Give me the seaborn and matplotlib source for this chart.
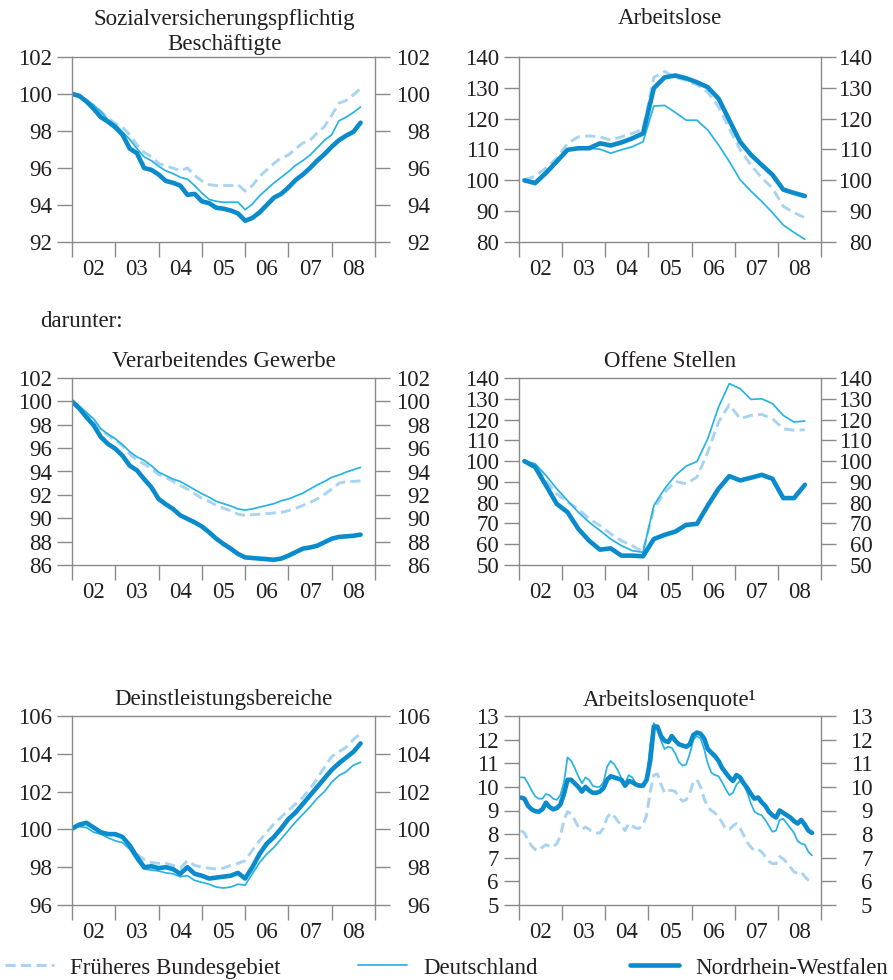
import numpy as np
import pandas as pd
import seaborn as sns
import matplotlib.pyplot as plt
from matplotlib.ticker import FixedLocator

# series names / legend
SERIES = ['Früheres Bundesgebiet', 'Deutschland', 'Nordrhein-Westfalen']
COLORS = {'Früheres Bundesgebiet': '#a9d4f1',
          'Deutschland': '#27b3e3',
          'Nordrhein-Westfalen': '#0a8bcb'}
WIDTHS = {'Früheres Bundesgebiet': 2.1, 'Deutschland': 1.25, 'Nordrhein-Westfalen': 3.3}
DASHES = {'Früheres Bundesgebiet': (3.5, 1.8), 'Deutschland': '', 'Nordrhein-Westfalen': ''}

YEAR_LABELS = ['02', '03', '04', '05', '06', '07', '08']

# time axes (months / quarters since Jan 2002)
months_bi = list(range(0, 81, 2))
quarters = list(range(0, 27))
months = list(range(0, 82))

# Sozialversicherungspflichtig Beschaeftigte
besch_fbg = [100.05, 99.95, 99.65, 99.4, 99.05, 98.7, 98.4, 98.2, 97.8, 97.25, 96.85, 96.6, 96.25, 96.1,
             96.0, 95.85, 96.0, 95.6, 95.3, 95.1, 95.05, 95.05, 95.05, 95.1, 94.75, 95.05, 95.55, 95.9,
             96.25, 96.55, 96.7, 97.05, 97.35, 97.5, 97.9, 98.25, 98.85, 99.5, 99.65, 99.95, 100.3]
besch_de = [100.0, 99.9, 99.65, 99.4, 99.05, 98.6, 98.35, 97.95, 97.55, 97.05, 96.6, 96.4, 96.1, 95.85,
            95.7, 95.5, 95.4, 95.05, 94.65, 94.3, 94.2, 94.15, 94.15, 94.15, 93.75, 94.05, 94.5, 94.85,
            95.2, 95.5, 95.8, 96.15, 96.4, 96.7, 97.1, 97.5, 97.8, 98.55, 98.75, 99.0, 99.3]
besch_nrw = [100.0, 99.9, 99.6, 99.2, 98.75, 98.5, 98.2, 97.8, 97.05, 96.8, 96.0, 95.9, 95.65, 95.3,
             95.2, 95.05, 94.55, 94.6, 94.2, 94.1, 93.85, 93.8, 93.7, 93.55, 93.15, 93.3, 93.6, 94.0,
             94.4, 94.6, 94.95, 95.35, 95.65, 96.0, 96.4, 96.75, 97.15, 97.5, 97.75, 97.95, 98.45]

# Arbeitslose
alo_fbg = [100.2, 101.3, 104.0, 107.2, 112.0, 114.1, 114.4, 114.1, 113.1, 114.1, 115.2, 116.6, 133.4, 135.3,
           133.4, 132.4, 131.0, 128.6, 123.8, 116.8, 109.9, 105.0, 100.8, 97.5, 91.6, 89.5, 87.9]
alo_de = [100.0, 99.7, 102.9, 106.3, 109.6, 110.6, 110.4, 110.1, 108.8, 109.9, 110.9, 112.5, 124.1, 124.3,
          122.0, 119.5, 119.5, 116.3, 111.5, 106.1, 100.2, 96.5, 93.2, 89.5, 85.5, 83.1, 80.9]
alo_nrw = [100.0, 99.1, 102.4, 106.1, 109.9, 110.4, 110.4, 112.0, 111.3, 112.3, 113.6, 115.2, 129.9, 133.4,
           134.0, 133.1, 131.8, 130.2, 126.5, 119.5, 112.5, 108.3, 105.0, 101.8, 97.0, 95.9, 94.9]

# Verarbeitendes Gewerbe
verarb_fbg = [100.1, 99.5, 98.95, 98.4, 97.5, 97.1, 96.65, 96.2, 95.5, 94.95, 94.65, 94.25, 93.75, 93.5,
              93.15, 92.8, 92.5, 92.1, 91.7, 91.45, 91.1, 90.85, 90.65, 90.35, 90.25, 90.3, 90.35, 90.4,
              90.45, 90.5, 90.65, 90.85, 91.1, 91.35, 91.65, 92.05, 92.5, 93.0, 93.15, 93.15, 93.2]
verarb_de = [100.1, 99.6, 99.05, 98.5, 97.65, 97.2, 96.8, 96.3, 95.7, 95.25, 94.95, 94.5, 93.95, 93.65,
             93.35, 93.15, 92.8, 92.45, 92.1, 91.8, 91.45, 91.25, 91.05, 90.8, 90.7, 90.8, 90.95, 91.1,
             91.25, 91.5, 91.65, 91.9, 92.15, 92.5, 92.85, 93.15, 93.5, 93.7, 93.95, 94.15, 94.35]
verarb_nrw = [100.0, 99.4, 98.65, 97.95, 96.95, 96.35, 95.95, 95.35, 94.5, 94.1, 93.35, 92.65, 91.65, 91.2,
              90.8, 90.25, 89.95, 89.65, 89.3, 88.8, 88.25, 87.8, 87.4, 86.95, 86.65, 86.6, 86.55, 86.5,
              86.45, 86.55, 86.8, 87.1, 87.4, 87.5, 87.65, 87.95, 88.25, 88.4, 88.45, 88.5, 88.6]

# Offene Stellen
offen_fbg = [100.3, 98.2, 90.7, 84.2, 80.2, 77.0, 72.2, 69.0, 65.0, 61.7, 59.3, 56.4, 77.0, 85.0,
             90.2, 89.1, 92.3, 104.3, 118.8, 127.2, 120.4, 122.0, 122.5, 120.4, 115.6, 114.8, 115.1]
offen_de = [100.0, 98.7, 93.1, 86.7, 81.0, 75.4, 70.6, 66.6, 62.5, 59.3, 56.9, 56.1, 78.6, 86.7,
            93.1, 97.6, 99.8, 110.8, 126.0, 137.3, 134.9, 129.7, 130.0, 127.7, 122.0, 118.8, 119.3]
offen_nrw = [100.0, 97.1, 88.3, 79.4, 75.4, 67.4, 61.7, 57.4, 58.0, 54.5, 54.5, 54.2, 62.5, 64.5,
             66.1, 69.3, 69.8, 78.6, 86.7, 92.8, 90.7, 92.0, 93.4, 91.5, 82.2, 82.2, 88.6]

# Dienstleistungsbereiche
dienst_fbg = [99.95, 100.2, 100.3, 100.05, 99.85, 99.75, 99.7, 99.6, 99.15, 98.7, 98.4, 98.25, 98.2, 98.2,
              98.1, 97.95, 98.35, 98.1, 98.0, 97.95, 97.9, 97.95, 98.1, 98.2, 98.35, 98.9, 99.4, 99.85,
              100.3, 100.65, 101.0, 101.35, 101.7, 102.15, 102.7, 103.3, 103.85, 104.1, 104.35, 104.75, 105.1]
dienst_de = [100.05, 100.15, 100.1, 99.85, 99.75, 99.55, 99.4, 99.3, 98.95, 98.35, 97.9, 97.85, 97.8, 97.7,
             97.65, 97.5, 97.55, 97.3, 97.2, 97.1, 96.95, 96.9, 96.95, 97.1, 97.05, 97.65, 98.25, 98.7,
             99.05, 99.5, 99.95, 100.4, 100.8, 101.2, 101.65, 102.0, 102.5, 102.85, 103.05, 103.4, 103.55]
dienst_nrw = [100.05, 100.25, 100.35, 100.1, 99.85, 99.75, 99.75, 99.6, 99.15, 98.55, 98.0, 98.05, 97.95, 98.0,
              97.9, 97.65, 98.0, 97.65, 97.55, 97.4, 97.45, 97.5, 97.55, 97.7, 97.4, 98.0, 98.7, 99.25,
              99.6, 100.05, 100.55, 100.9, 101.35, 101.8, 102.25, 102.7, 103.15, 103.5, 103.8, 104.1, 104.55]

# Arbeitslosenquote (monthly)
quote_fbg = [8.15, 8.05, 7.75, 7.5, 7.35, 7.3, 7.45, 7.55, 7.5, 7.45, 7.6, 7.9,
             8.6, 8.95, 8.85, 8.6, 8.3, 8.2, 8.3, 8.2, 8.1, 8.05, 8.05, 8.25,
             8.7, 8.9, 8.75, 8.55, 8.35, 8.15, 8.45, 8.35, 8.25, 8.25, 8.4, 8.8,
             9.8, 10.5, 10.55, 10.1, 9.75, 9.85, 9.85, 9.8, 9.55, 9.4, 9.45, 9.75,
             10.2, 10.3, 10.0, 9.5, 9.15, 9.0, 8.9, 8.7, 8.5, 8.2, 8.2, 8.35,
             8.45, 8.25, 7.95, 7.65, 7.45, 7.3, 7.35, 7.25, 7.05, 6.85, 6.75, 6.75,
             7.05, 6.95, 6.8, 6.6, 6.4, 6.35, 6.4, 6.2, 6.05, 5.95]
quote_de = [10.4, 10.4, 10.15, 9.85, 9.6, 9.5, 9.5, 9.7, 9.65, 9.5, 9.45, 9.65,
            10.2, 11.25, 11.1, 10.8, 10.45, 10.15, 10.4, 10.3, 10.05, 10.0, 10.0, 10.2,
            10.85, 11.1, 10.95, 10.7, 10.35, 10.15, 10.5, 10.4, 10.15, 10.1, 10.1, 10.35,
            11.8, 12.7, 12.45, 11.95, 11.6, 11.7, 11.65, 11.4, 11.05, 10.9, 10.95, 11.4,
            12.0, 12.15, 12.05, 11.6, 11.0, 10.6, 10.5, 10.45, 10.2, 9.9, 9.65, 9.75,
            10.1, 10.25, 10.1, 9.75, 9.3, 8.95, 8.85, 8.8, 8.6, 8.35, 8.1, 8.15,
            8.6, 8.65, 8.45, 8.25, 8.05, 7.7, 7.6, 7.55, 7.25, 7.1]
quote_nrw = [9.55, 9.5, 9.2, 9.05, 8.97, 8.95, 9.05, 9.33, 9.15, 9.05, 9.1, 9.25,
             9.7, 10.3, 10.3, 10.15, 10.0, 9.8, 10.0, 9.85, 9.75, 9.75, 9.8, 9.95,
             10.3, 10.45, 10.4, 10.35, 10.3, 10.05, 10.25, 10.2, 10.1, 10.05, 10.05, 10.3,
             11.1, 12.55, 12.55, 12.15, 11.95, 11.9, 12.15, 11.95, 11.8, 11.75, 11.7, 11.8,
             12.2, 12.3, 12.25, 12.05, 11.6, 11.45, 11.3, 11.1, 10.8, 10.6, 10.4, 10.25,
             10.5, 10.4, 10.15, 9.95, 9.7, 9.5, 9.55, 9.35, 9.2, 8.95, 8.8, 8.7,
             9.0, 8.9, 8.8, 8.7, 8.55, 8.45, 8.6, 8.4, 8.15, 8.05]

sns.set_theme(style='white')
plt.rcParams['font.family'] = ['Liberation Serif', 'DejaVu Serif']
FS = 16.5
GRAY = '#8a8a8a'
TXT = '#231f20'

W, H = 893, 980
fig = plt.figure(figsize=(W / 100, H / 100), dpi=100)


def box(l, r, t, b):
    return [l / W, 1 - b / H, (r - l) / W, (b - t) / H]


def panel(rect, x, fbg, de, nrw, yticks, right_pad):
    ax = fig.add_axes(rect)
    df = pd.DataFrame({'x': np.tile(x, 3),
                       'v': fbg + de + nrw,
                       'serie': np.repeat(SERIES, len(x))})
    sns.lineplot(data=df, x='x', y='v', hue='serie', hue_order=SERIES, palette=COLORS,
                 size='serie', sizes=WIDTHS, style='serie', dashes=DASHES,
                 estimator=None, sort=False, legend=False, ax=ax)
    ax.set_xlim(2002, 2009)
    ax.set_ylim(yticks[0], yticks[-1])
    ax.set_xlabel('')
    ax.set_ylabel('')
    ax.set_yticks(yticks)
    ax.set_yticklabels([str(t) for t in yticks])
    ax.xaxis.set_major_locator(FixedLocator([2002.5 + i for i in range(7)]))
    ax.set_xticklabels(YEAR_LABELS)
    ax.xaxis.set_minor_locator(FixedLocator([2002 + i for i in range(8)]))
    ax.tick_params(axis='x', which='major', length=0, pad=12, labelsize=FS, labelcolor=TXT)
    ax.tick_params(axis='x', which='minor', bottom=True, length=11, width=1, color=GRAY, direction='out')
    ax.tick_params(axis='y', which='major', left=True, right=False, labelleft=True, labelright=False,
                   length=10.5, width=1, color=GRAY, direction='out', pad=4,
                   labelsize=FS, labelcolor=TXT)
    for sp in ax.spines.values():
        sp.set_color(GRAY)
        sp.set_linewidth(1.0)

    # right-hand scale, labels right-aligned in a column
    ax2 = ax.twinx()
    ax2.set_ylim(ax.get_ylim())
    ax2.set_yticks(yticks)
    ax2.set_yticklabels([str(t) for t in yticks], ha='right')
    ax2.tick_params(axis='y', which='major', length=10.5, width=1, color=GRAY, direction='out',
                    pad=right_pad, labelsize=FS, labelcolor=TXT)
    for sp in ax2.spines.values():
        sp.set_visible(False)
    ax2.grid(False)
    return ax


x_bi = [2002 + m / 12 for m in months_bi]
x_q = [2002 + (q + 0.5) / 4 for q in quarters]
x_m = [2002 + (m + 0.5) / 12 for m in months]

panel(box(72, 375, 57, 242), x_bi, besch_fbg, besch_de, besch_nrw, list(range(92, 103, 2)), 29)
panel(box(519, 821, 57, 242), x_q, alo_fbg, alo_de, alo_nrw, list(range(80, 141, 10)), 26.5)
panel(box(72, 375, 378, 565), x_bi, verarb_fbg, verarb_de, verarb_nrw, list(range(86, 103, 2)), 29)
panel(box(519, 821, 378, 565), x_q, offen_fbg, offen_de, offen_nrw, list(range(50, 141, 10)), 26.5)
panel(box(72, 375, 716, 905), x_bi, dienst_fbg, dienst_de, dienst_nrw, list(range(96, 107, 2)), 29)
panel(box(519, 821, 716, 905), x_m, quote_fbg, quote_de, quote_nrw, list(range(5, 14)), 26.5)


def label(px, py, s, ha='center'):
    fig.text(px / W, 1 - py / H, s, ha=ha, va='baseline', fontsize=FS, color=TXT)


label(224, 25, 'Sozialversicherungspflichtig')
label(224, 50, 'Beschäftigte')
label(670, 24, 'Arbeitslose')
label(40, 327, 'darunter:', ha='left')
label(224, 367, 'Verarbeitendes Gewerbe')
label(670, 367, 'Offene Stellen')
label(223, 705, 'Deinstleistungsbereiche')
label(670, 706, 'Arbeitslosenquote¹')

# legend: one entry per slot, placed where the reference has them
legend_x = {'Früheres Bundesgebiet': 5, 'Deutschland': 358, 'Nordrhein-Westfalen': 630}
for s in SERIES:
    h = plt.Line2D([], [], color=COLORS[s], lw=WIDTHS[s],
                   dashes=DASHES[s] if DASHES[s] else (None, None))
    fig.legend([h], [s], loc='center left', bbox_to_anchor=(legend_x[s] / W, 1 - 968 / H),
               frameon=False, fontsize=FS, handlelength=2.15, handletextpad=0.7,
               borderpad=0, borderaxespad=0, labelcolor=TXT)

fig.savefig('out.png', dpi=100)
